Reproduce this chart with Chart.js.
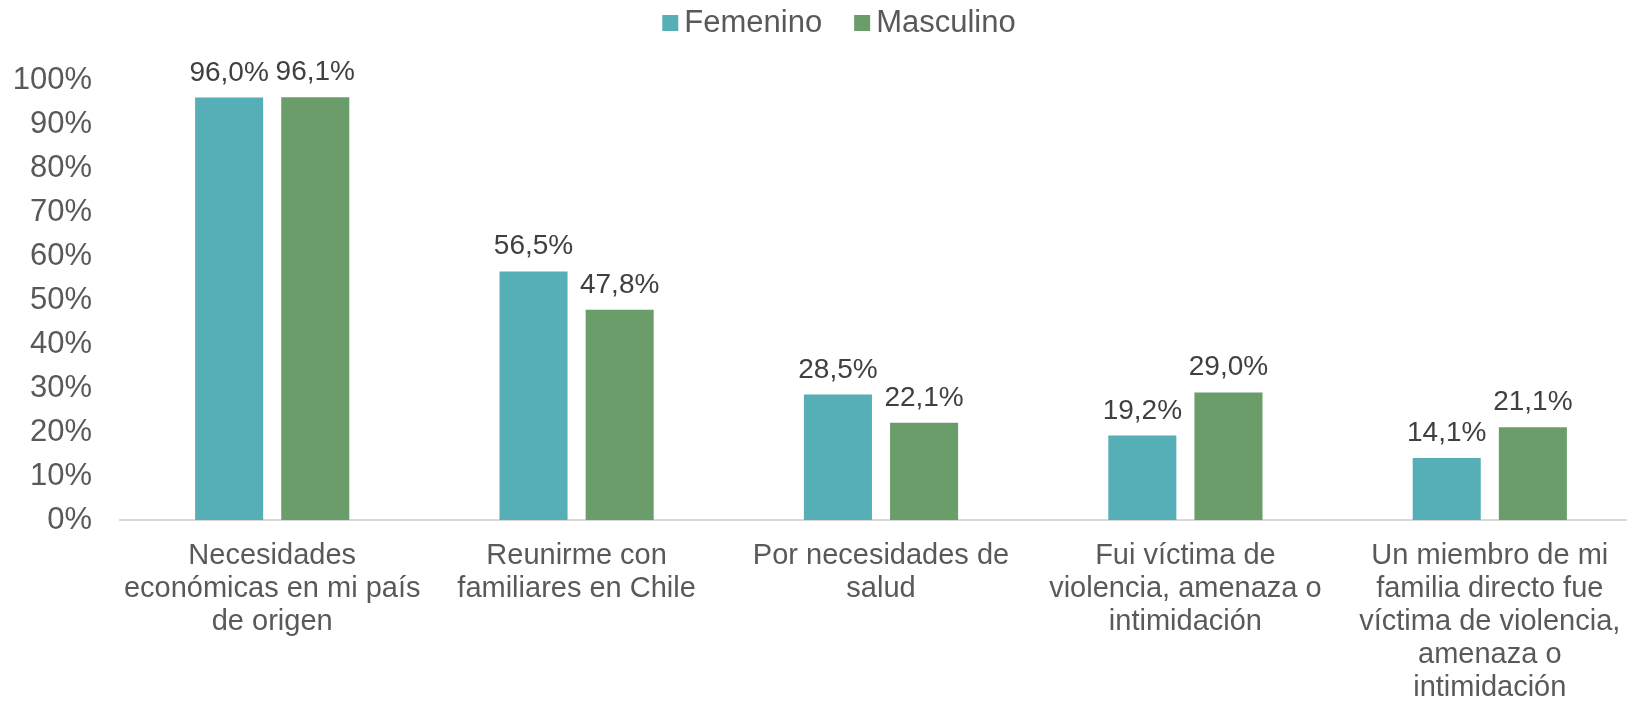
<!DOCTYPE html>
<html lang="es">
<head>
<meta charset="utf-8">
<title>Motivos de migración por sexo</title>
<script src="https://cdn.jsdelivr.net/npm/chart.js@4.4.1/dist/chart.umd.min.js"></script>
<style>
	html, body { margin: 0; padding: 0; background: #fff; overflow: hidden; }
	canvas { display: block; }
</style>
</head>
<body>
<canvas id="motivosChart" width="1645" height="702"></canvas>
<script>
// Datos
const categorias = [
	["Necesidades", "económicas en mi país", "de origen"],
	["Reunirme con", "familiares en Chile"],
	["Por necesidades de", "salud"],
	["Fui víctima de", "violencia, amenaza o", "intimidación"],
	["Un miembro de mi", "familia directo fue", "víctima de violencia,", "amenaza o", "intimidación"],
];
const femenino = [96.0, 56.5, 28.5, 19.2, 14.1];
const masculino = [96.1, 47.8, 22.1, 29.0, 21.1];
const ticksY = [0, 10, 20, 30, 40, 50, 60, 70, 80, 90, 100];

const FUENTE = "'Liberation Sans', Arial, sans-serif";

// Etiquetas de valor encima de cada barra
const etiquetasValor = {
	id: "etiquetasValor",
	afterDatasetsDraw(chart) {
		const ctx = chart.ctx;
		ctx.save();
		ctx.font = "28px " + FUENTE;
		ctx.fillStyle = "#404040";
		ctx.textAlign = "center";
		ctx.textBaseline = "alphabetic";
		chart.data.datasets.forEach((ds, i) => {
			chart.getDatasetMeta(i).data.forEach((bar, j) => {
				const txt = ds.data[j].toFixed(1).replace(".", ",") + "%";
				ctx.fillText(txt, bar.x, bar.y - 17);
			});
		});
		ctx.restore();
	},
};

// Leyenda propia (cuadro pegado al texto, como en Excel)
const leyenda = {
	id: "leyenda",
	afterDraw(chart) {
		const ctx = chart.ctx;
		const caja = 16, sep = 6, entre = 32, yc = 23;
		ctx.save();
		ctx.font = "31px " + FUENTE;
		const items = chart.data.datasets.map((ds) => ({
			text: ds.label,
			color: ds.backgroundColor,
			w: ctx.measureText(ds.label).width,
		}));
		let total = 0;
		items.forEach((it, k) => { total += caja + sep + it.w + (k > 0 ? entre : 0); });
		let x = 839 - total / 2;
		ctx.textBaseline = "middle";
		items.forEach((it) => {
			ctx.fillStyle = it.color;
			ctx.fillRect(x, yc - caja / 2, caja, caja);
			ctx.fillStyle = "#595959";
			ctx.fillText(it.text, x + caja + sep, yc);
			x += caja + sep + it.w + entre;
		});
		ctx.restore();
	},
};

const ctx = document.getElementById("motivosChart").getContext("2d");
new Chart(ctx, {
	type: "bar",
	data: {
		labels: categorias,
		datasets: [
			{
				label: "Femenino",
				data: femenino,
				backgroundColor: "#56AEB7",
				categoryPercentage: 0.566,
				barPercentage: 0.79,
			},
			{
				label: "Masculino",
				data: masculino,
				backgroundColor: "#6A9D6A",
				categoryPercentage: 0.566,
				barPercentage: 0.79,
			},
		],
	},
	options: {
		responsive: false,
		animation: false,
		layout: { padding: { top: 80, left: 10, right: 3, bottom: 0 } },
		plugins: {
			legend: { display: false },
			tooltip: { enabled: false },
		},
		scales: {
			x: {
				grid: { display: false, drawTicks: false },
				border: { display: true, color: "#D9D9D9", width: 2 },
				ticks: {
					autoSkip: false,
					maxRotation: 0,
					minRotation: 0,
					padding: 19,
					color: "#595959",
					font: { family: FUENTE, size: 29, lineHeight: 1.138 },
				},
				afterFit: (s) => { s.height = 182; },
			},
			y: {
				min: 0,
				max: 100,
				grid: { display: false, drawTicks: false },
				border: { display: false },
				afterBuildTicks: (s) => { s.ticks = ticksY.map((v) => ({ value: v })); },
				ticks: {
					padding: 28,
					color: "#595959",
					font: { family: FUENTE, size: 31 },
					callback: (v) => v + "%",
				},
				afterFit: (s) => { s.width = 110; },
			},
		},
	},
	plugins: [etiquetasValor, leyenda],
});
</script>
</body>
</html>
